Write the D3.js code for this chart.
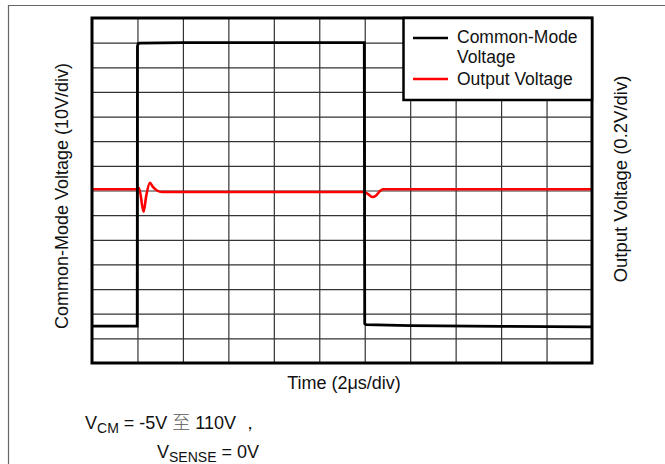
<!DOCTYPE html>
<html><head><meta charset="utf-8">
<script src="https://cdn.jsdelivr.net/npm/d3@7"></script>
<style>body{margin:0;background:#fff}svg{display:block;font-family:"Liberation Sans",Arial,sans-serif}</style>
</head><body>
<svg id="c" width="665" height="464"></svg>
<script>
// time in µs (2 µs/div, 11 divisions)
const cmTime  = [0, 1.99, 2.0, 2.03, 2.1, 4, 8, 11.98, 12.0, 12.05, 14, 18, 22];
const cmValue = [-5, -5, 108.5, 109.6, 109.8, 110, 110, 110, -4.0, -4.4, -4.8, -5.1, -5.3];
const outTime  = [0, 1.98, 2.07, 2.27, 2.38, 2.55, 2.68, 2.86, 3.08, 11.97, 12.15, 12.35, 12.5, 12.67, 12.8, 22];
const outValue = [0.01, 0.01, 0.02, -0.172, -0.05, 0.063, 0.03, 0.0, -0.012, -0.012, -0.03, -0.053, -0.04, -0.005, 0.01, 0.01];
const xDomain = [0, 22], xDivs = 11;
const cmDomain = [-20, 120], outDomain = [-1.4, 1.4], yDivs = 14;
const legendLabels = [["Common-Mode", "Voltage"], ["Output Voltage"]];
const seriesColors = ["#000000", "#ff0000"];

const FS = 18;
const svg = d3.select("#c");
const L = 92, R = 592, T = 18, B = 363;
const x = d3.scaleLinear().domain(xDomain).range([L, R]);
const yCM = d3.scaleLinear().domain(cmDomain).range([B, T]);
const yOut = d3.scaleLinear().domain(outDomain).range([B, T]);

// outer frame lines
svg.append("line").attr("x1", 8).attr("x2", 665).attr("y1", 5.5).attr("y2", 5.5).attr("stroke", "#666").attr("stroke-width", 1.2);
svg.append("line").attr("x1", 8.5).attr("x2", 8.5).attr("y1", 5).attr("y2", 464).attr("stroke", "#666").attr("stroke-width", 1.2);

// grid
const xt = d3.range(1, xDivs).map(i => xDomain[0] + i * (xDomain[1] - xDomain[0]) / xDivs);
const yt = d3.range(1, yDivs).map(i => cmDomain[0] + i * (cmDomain[1] - cmDomain[0]) / yDivs);
svg.append("g").attr("transform", `translate(0,${B})`)
  .call(d3.axisBottom(x).tickValues(xt).tickSize(-(B - T)).tickFormat(""))
  .call(g => g.select(".domain").remove())
  .call(g => g.selectAll("line").attr("stroke", "#333").attr("stroke-width", 1.2));
svg.append("g").attr("transform", `translate(${L},0)`)
  .call(d3.axisLeft(yCM).tickValues(yt).tickSize(-(R - L)).tickFormat(""))
  .call(g => g.select(".domain").remove())
  .call(g => g.selectAll("line").attr("stroke", "#333").attr("stroke-width", 1.2));

// series
const cmLine = d3.line().x((d, i) => x(cmTime[i])).y(d => yCM(d));
const outLine = d3.line().x((d, i) => x(outTime[i])).y(d => yOut(d)).curve(d3.curveMonotoneX);
svg.append("path").attr("d", outLine(outValue)).attr("fill", "none").attr("stroke", seriesColors[1]).attr("stroke-width", 2.6);
svg.append("path").attr("d", cmLine(cmValue)).attr("fill", "none").attr("stroke", seriesColors[0]).attr("stroke-width", 2.8);

// plot border
svg.append("rect").attr("x", L).attr("y", T).attr("width", R - L).attr("height", B - T)
  .attr("fill", "none").attr("stroke", "#000").attr("stroke-width", 3);

// legend
const lg = svg.append("g");
lg.append("rect").attr("x", 403.5).attr("y", 18).attr("width", 188.5).attr("height", 82)
  .attr("fill", "#fff").attr("stroke", "#000").attr("stroke-width", 2.5);
const legY = [38, 79];
legendLabels.forEach((lab, i) => {
  lg.append("line").attr("x1", 413).attr("x2", 448).attr("y1", legY[i]).attr("y2", legY[i])
    .attr("stroke", seriesColors[i]).attr("stroke-width", 2.5);
  lab.forEach((t, j) => {
    lg.append("text").attr("x", 457).attr("y", (i === 0 ? 43 : 85) + j * 20)
      .attr("font-size", 17.5).attr("fill", "#111").text(t);
  });
});

// axis titles
svg.append("text").attr("transform", `translate(68,196) rotate(-90)`)
  .attr("text-anchor", "middle").attr("font-size", FS).attr("fill", "#111").text("Common-Mode Voltage (10V/div)");
svg.append("text").attr("transform", `translate(627,179) rotate(-90)`)
  .attr("text-anchor", "middle").attr("font-size", 18.5).attr("fill", "#111").text("Output Voltage (0.2V/div)");
svg.append("text").attr("x", 344).attr("y", 389).attr("text-anchor", "middle")
  .attr("font-size", FS).attr("fill", "#111").text("Time (2μs/div)");

// condition text
const t1 = svg.append("text").attr("x", 85).attr("y", 429).attr("font-size", FS).attr("fill", "#111");
t1.append("tspan").text("V");
t1.append("tspan").attr("font-size", 14).attr("dy", 4).text("CM");
t1.append("tspan").attr("dy", -4).text(" = -5V ");
t1.append("tspan").attr("font-family", "Noto Sans CJK SC").attr("font-weight", 300).attr("fill", "#555").text("至");
t1.append("tspan").text(" 110V  ，");
const t2 = svg.append("text").attr("x", 157).attr("y", 458).attr("font-size", FS).attr("fill", "#111");
t2.append("tspan").text("V");
t2.append("tspan").attr("font-size", 14).attr("dy", 4).text("SENSE");
t2.append("tspan").attr("dy", -4).text(" = 0V");
</script>
</body></html>
